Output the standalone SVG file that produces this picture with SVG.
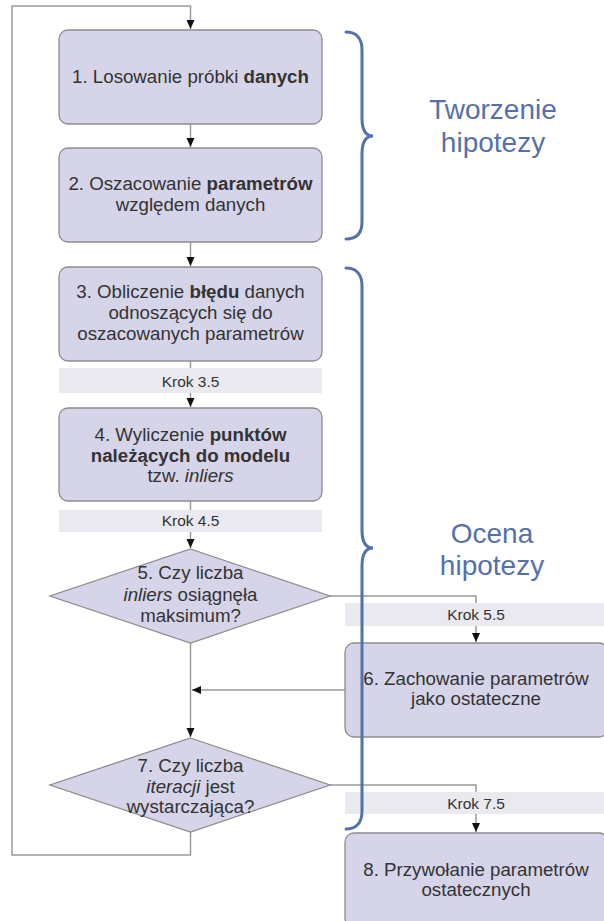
<svg xmlns="http://www.w3.org/2000/svg" width="604" height="921" viewBox="0 0 604 921">
<style>
.box{fill:#d6d4e9;stroke:#8c8c8c;stroke-width:1.3}
.band{fill:#e9e9ef}
.t{font-family:"Liberation Sans",Arial,sans-serif;font-size:18.7px;fill:#333;text-anchor:middle}
.k{font-family:"Liberation Sans",Arial,sans-serif;font-size:15.5px;fill:#333;text-anchor:middle}
.h{font-family:"Liberation Sans",Arial,sans-serif;font-size:28px;fill:#5571aa;text-anchor:middle}
.c{fill:none;stroke:#9a9a9a;stroke-width:1.5}
.br{fill:none;stroke:#5571aa;stroke-width:3;stroke-linecap:round}
</style>
<defs>
<marker id="a" markerUnits="userSpaceOnUse" markerWidth="10" markerHeight="10" refX="9" refY="5" orient="auto">
<path d="M0,1 L9,5 L0,9 Z" fill="#111"/>
</marker>
</defs>
<g id="connectors">
<path class="c" d="M190.5,832 V855 H12 V6 H190.5 V29" marker-end="url(#a)"/>
<path class="c" d="M190.5,124 V147" marker-end="url(#a)"/>
<path class="c" d="M190.5,242 V266" marker-end="url(#a)"/>
<path class="c" d="M190.5,361 V407" marker-end="url(#a)"/>
<path class="c" d="M190.5,501 V548" marker-end="url(#a)"/>
<path class="c" d="M190.5,643 V737" marker-end="url(#a)"/>
<path class="c" d="M330,596 H476 V642" marker-end="url(#a)"/>
<path class="c" d="M345,690 H192" marker-end="url(#a)"/>
<path class="c" d="M330,785 H476 V832" marker-end="url(#a)"/>
</g>
<g id="band35"><rect class="band" x="59" y="368" width="263" height="25"/><text class="k" x="190.5" y="387">Krok 3.5</text></g>
<g id="band45"><rect class="band" x="59" y="510" width="263" height="22"/><text class="k" x="190.5" y="526">Krok 4.5</text></g>
<g id="band55"><rect class="band" x="345" y="603" width="259" height="23"/><text class="k" x="476" y="620">Krok 5.5</text></g>
<g id="band75"><rect class="band" x="345" y="792" width="259" height="22"/><text class="k" x="476" y="809">Krok 7.5</text></g>
<g id="n1"><rect class="box" x="59" y="30" width="263" height="94" rx="9"/><text class="t" x="190.5" y="83">1. Losowanie próbki <tspan font-weight="bold">danych</tspan></text></g>
<g id="n2"><rect class="box" x="59" y="148" width="263" height="94" rx="9"/><text class="t" x="190.5" y="190">2. Oszacowanie <tspan font-weight="bold">parametrów</tspan></text><text class="t" x="190.5" y="211">względem danych</text></g>
<g id="n3"><rect class="box" x="59" y="267" width="263" height="94" rx="9"/><text class="t" x="190.5" y="298">3. Obliczenie <tspan font-weight="bold">błędu</tspan> danych</text><text class="t" x="190.5" y="319">odnoszących się do</text><text class="t" x="190.5" y="340">oszacowanych parametrów</text></g>
<g id="n4"><rect class="box" x="59" y="408" width="263" height="93" rx="9"/><text class="t" x="190.5" y="441">4. Wyliczenie <tspan font-weight="bold">punktów</tspan></text><text class="t" x="190.5" y="462" font-weight="bold">należących do modelu</text><text class="t" x="190.5" y="482">tzw. <tspan font-style="italic">inliers</tspan></text></g>
<g id="n5"><polygon class="box" points="190.5,549 330,596 190.5,643 50,596"/><text class="t" x="190.5" y="579">5. Czy liczba</text><text class="t" x="190.5" y="601"><tspan font-style="italic">inliers</tspan> osiągnęła</text><text class="t" x="190.5" y="622">maksimum?</text></g>
<g id="n6"><rect class="box" x="345" y="643" width="263" height="94" rx="9"/><text class="t" x="476" y="685">6. Zachowanie parametrów</text><text class="t" x="476" y="705">jako ostateczne</text></g>
<g id="n7"><polygon class="box" points="190.5,738 330,785 190.5,832 50,785"/><text class="t" x="190.5" y="772">7. Czy liczba</text><text class="t" x="190.5" y="793"><tspan font-style="italic">iteracji</tspan> jest</text><text class="t" x="190.5" y="813">wystarczająca?</text></g>
<g id="n8"><rect class="box" x="345" y="833" width="263" height="94" rx="9"/><text class="t" x="476" y="876">8. Przywołanie parametrów</text><text class="t" x="476" y="896">ostatecznych</text></g>
<g id="brace1"><path class="br" d="M346,32 C356,32 362,38 362,50 V118 C362,130 366,136 373,136 C366,136 362,142 362,154 V222 C362,234 356,239 346,239"/><text class="h" x="493" y="119">Tworzenie</text><text class="h" x="493" y="152">hipotezy</text></g>
<g id="brace2"><path class="br" d="M346,268 C356,268 362,274 362,286 V530 C362,542 366,548 373,548 C366,548 362,554 362,566 V811 C362,823 356,829 346,829"/><text class="h" x="492" y="543">Ocena</text><text class="h" x="492" y="575">hipotezy</text></g>
</svg>
